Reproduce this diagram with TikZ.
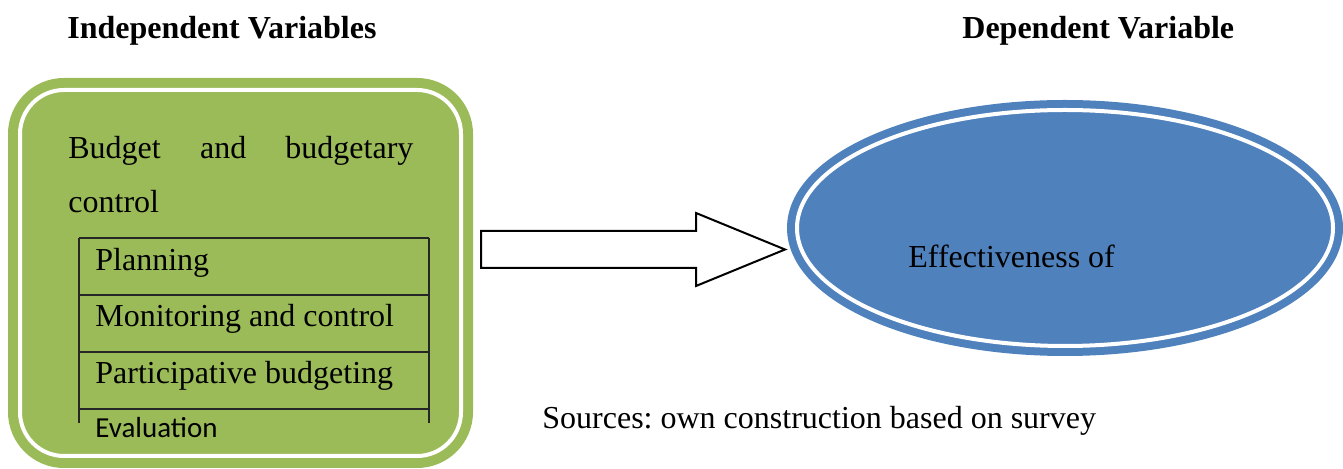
\documentclass[tikz,border=0pt]{standalone}
\usepackage{fontspec}
\setmainfont{Liberation Serif}
\newfontfamily\calibri{Carlito}
\usetikzlibrary{shapes.geometric}
\frenchspacing

\definecolor{ivgreen}{HTML}{9BBB59}
\definecolor{dvblue}{HTML}{4F81BD}

\tikzset{
  txt/.style={anchor=base west, inner sep=0pt, font=\fontsize{16}{27}\selectfont},
  head/.style={txt, font=\fontsize{16}{27}\selectfont\bfseries},
  ringed/.style={double=white, double distance=2pt, outer sep=0pt},
  rule/.style={draw=black!85, line width=0.8pt},
  blockarrow/.style={draw=black, line width=1pt, fill=white, line join=miter},
}

\begin{document}
\begin{tikzpicture}[x=0.5pt, y=-0.5pt]
  \useasboundingbox (0,0) rectangle (1343,469);

  % headings
  \node[head] (ivhead) at (67,39) {Independent Variables};
  \node[head] (dvhead) at (962,39) {Dependent Variable};

  % independent variables box
  \node[draw=ivgreen, fill=ivgreen, ringed, line width=5pt, rounded corners=22pt,
        minimum width=220.5pt, minimum height=183pt, inner sep=0pt] (iv) at (240.5,273) {};
  \node[txt, text width=172.5pt, align=justify] (budget) at (68,159)
    {Budget and budgetary \mbox{control}};

  % sub-items
  \foreach \y in {238,295,352,409}
    \draw[rule] (79,\y) -- (429,\y);
  \draw[rule] (79,238) -- (79,423) (429,238) -- (429,423);
  \node[txt] (plan) at (95,271) {Planning};
  \node[txt] (monit) at (95,327) {Monitoring and control};
  \node[txt] (partic) at (95,384) {Participative budgeting};
  \node[txt, font=\calibri\fontsize{14.5}{17}\selectfont] (evalu) at (95,438) {Evaluation};

  % dependent variable
  \node[ellipse, draw=dvblue, fill=dvblue, ringed, line width=4pt,
        minimum width=268pt, minimum height=118pt, inner sep=0pt] (dv) at (1065,228) {};
  \node[txt] (effect) at (908,268) {Effectiveness of};

  % block arrow
  \coordinate (tail) at (481,249.5);
  \coordinate (tip) at ([xshift=-6pt]dv.west |- tail);
  \draw[blockarrow] (tail) ++(0,-18.5) -- ++(215,0) -- ++(0,-18) -- (tip)
    -- ++(-89,36.5) -- ++(0,-18) -- ++(-215,0) -- cycle;

  \node[txt] (source) at (542,429) {Sources: own construction based on survey};
\end{tikzpicture}
\end{document}
